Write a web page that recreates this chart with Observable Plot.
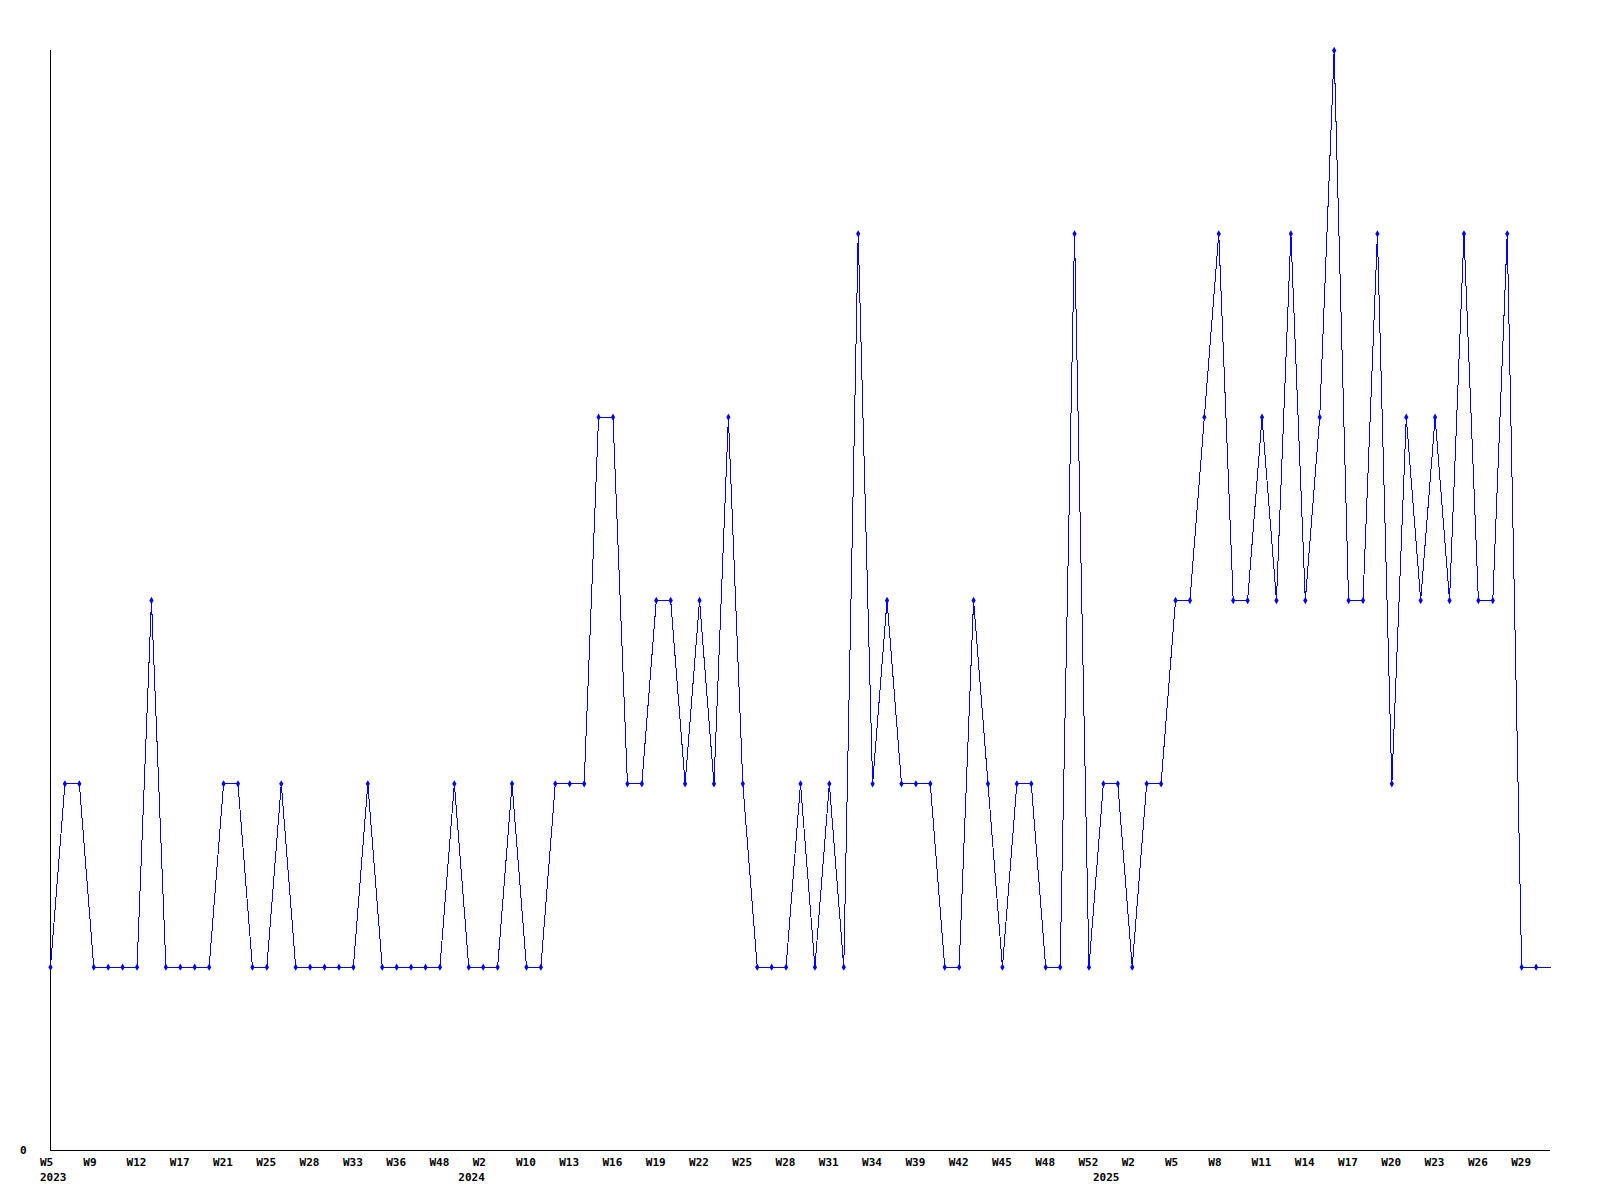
<!DOCTYPE html>
<html>
<head>
<meta charset="utf-8">
<script src="https://cdn.jsdelivr.net/npm/d3@7"></script>
<script src="https://cdn.jsdelivr.net/npm/@observablehq/plot@0.6"></script>
<style>
html, body { margin: 0; padding: 0; background: #fff; }
#chart svg { display: block; }
</style>
</head>
<body>
<div id="chart"></div>
<script>
// Weekly periods (year-week), one per point
const periods = [
  "2023-W5","2023-W6","2023-W7","2023-W9","2023-W10","2023-W11","2023-W12","2023-W13","2023-W15","2023-W17",
  "2023-W18","2023-W19","2023-W21","2023-W22","2023-W23","2023-W25","2023-W26","2023-W27","2023-W28","2023-W30",
  "2023-W31","2023-W33","2023-W34","2023-W35","2023-W36","2023-W40","2023-W44","2023-W48","2023-W50","2024-W1",
  "2024-W2","2024-W5","2024-W8","2024-W10","2024-W11","2024-W12","2024-W13","2024-W14","2024-W15","2024-W16",
  "2024-W17","2024-W18","2024-W19","2024-W20","2024-W21","2024-W22","2024-W23","2024-W24","2024-W25","2024-W26",
  "2024-W27","2024-W28","2024-W29","2024-W30","2024-W31","2024-W32","2024-W33","2024-W34","2024-W36","2024-W37",
  "2024-W39","2024-W40","2024-W41","2024-W42","2024-W43","2024-W44","2024-W45","2024-W46","2024-W47","2024-W48",
  "2024-W50","2024-W51","2024-W52","2025-W0","2025-W1","2025-W2","2025-W3","2025-W4","2025-W5","2025-W6",
  "2025-W7","2025-W8","2025-W9","2025-W10","2025-W11","2025-W12","2025-W13","2025-W14","2025-W15","2025-W16",
  "2025-W17","2025-W18","2025-W19","2025-W20","2025-W21","2025-W22","2025-W23","2025-W24","2025-W25","2025-W26",
  "2025-W27","2025-W28","2025-W29","2025-W30","2025-W31"
];

// Value per week
const values = [
  1,2,2,1,1,1,1,3,1,1,
  1,1,2,2,1,1,2,1,1,1,
  1,1,2,1,1,1,1,1,2,1,
  1,1,2,1,1,2,2,2,4,4,
  2,2,3,3,2,3,2,4,2,1,
  1,1,2,1,2,1,5,2,3,2,
  2,2,1,1,3,2,1,2,2,1,
  1,5,1,2,2,1,2,2,3,3,
  4,5,3,3,4,3,5,3,4,6,
  3,3,5,2,4,3,4,3,5,3,
  3,5,1,1,1
];

// Tick labels shown on the x axis
const weekTicks = [
  "2023-W5","2023-W9","2023-W12","2023-W17","2023-W21","2023-W25","2023-W28","2023-W33","2023-W36","2023-W48",
  "2024-W2","2024-W10","2024-W13","2024-W16","2024-W19","2024-W22","2024-W25","2024-W28","2024-W31","2024-W34",
  "2024-W39","2024-W42","2024-W45","2024-W48","2024-W52","2025-W2","2025-W5","2025-W8","2025-W11","2025-W14",
  "2025-W17","2025-W20","2025-W23","2025-W26","2025-W29"
];
const yearTicks = ["2023-W5","2024-W1","2025-W0"];
const yTicks = [0];

const data = periods.map((p, i) => ({period: p, value: values[i]}));
const weekOf = p => p.split("-")[1];
const yearOf = p => p.split("-")[0];

const chart = Plot.plot({
  width: 1600,
  height: 1200,
  marginLeft: 50,
  marginRight: 50,
  marginTop: 50,
  marginBottom: 50,
  style: {
    fontFamily: "'DejaVu Sans Mono', monospace",
    fontSize: "11px",
    fontWeight: "bold",
    background: "#fff",
    color: "#000"
  },
  x: {type: "point", domain: periods, padding: 0},
  y: {domain: [0, 6]},
  marks: [
    Plot.ruleY([0], {stroke: "#000", strokeWidth: 1}),
    Plot.ruleX([periods[0]], {stroke: "#000", strokeWidth: 1}),
    Plot.axisX(weekTicks, {tickSize: 0, tickPadding: 8, textAnchor: "start", dx: -10.5, tickFormat: weekOf, label: null, fill: "#000"}),
    Plot.axisX(yearTicks, {tickSize: 0, tickPadding: 23, textAnchor: "start", dx: -10.5, tickFormat: yearOf, label: null, fill: "#000"}),
    Plot.axisY(yTicks, {tickSize: 0, tickPadding: 24, tickFormat: d => String(d), label: null, fill: "#000"}),
    Plot.line(data, {x: "period", y: "value", stroke: "#0000ff", strokeWidth: 1, shapeRendering: "crispEdges"}),
    Plot.dot(data.slice(0, -1), {x: "period", y: "value", symbol: "diamond", r: 2.2, fill: "#0000ff", stroke: "none"})
  ]
});

document.getElementById("chart").appendChild(chart);
</script>
</body>
</html>
